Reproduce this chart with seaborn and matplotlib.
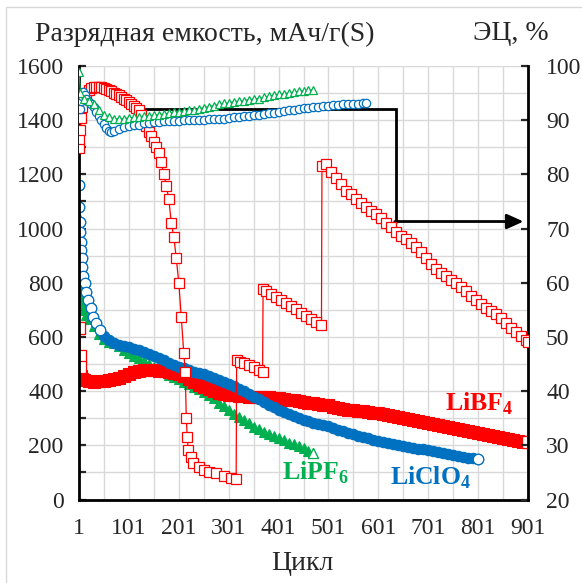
import matplotlib
matplotlib.use("Agg")
import matplotlib.pyplot as plt
from matplotlib.lines import Line2D
import seaborn as sns
import numpy as np

# ---------------- data ----------------
# discharge capacity, mAh/g(S)  -> left axis
libf4_cap_cyc = [1, 2, 3, 4, 6, 8, 11, 21, 31, 41, 51, 61, 71, 81, 91, 101, 111, 121, 131, 141,
                 151, 161, 171, 181, 191, 201, 211, 221, 231, 241, 251, 261, 271, 281, 291, 301,
                 311, 321, 331, 341, 351, 361, 371, 381, 391, 401, 411, 421, 431, 441, 451, 461,
                 471, 481, 491, 501, 511, 521, 531, 541, 551, 561, 571, 581, 591, 601, 611, 621,
                 631, 641, 651, 661, 671, 681, 691, 701, 711, 721, 731, 741, 751, 761, 771, 781,
                 791, 801, 811, 821, 831, 841, 851, 861, 871, 881, 891, 901]
libf4_cap = [910, 633, 530, 490, 455, 445, 440, 437, 435, 436, 438, 441, 445, 450, 456, 463, 470,
             476, 479, 478, 477, 475, 474, 472, 468, 462, 455, 443, 434, 424, 416, 408, 400, 394,
             389, 386, 384, 382, 381, 380, 380, 379, 378, 377, 375, 374, 371, 368, 366, 363, 361,
             358, 355, 352, 350, 347, 341, 337, 334, 331, 330, 327, 325, 322, 320, 318, 315, 311,
             307, 303, 300, 296, 292, 289, 285, 281, 277, 274, 270, 266, 263, 259, 255, 251, 248,
             244, 240, 237, 233, 229, 226, 223, 220, 217, 214, 211]

lipf6_cap_cyc = [1, 2, 3, 4, 6, 8, 11, 16, 21, 31, 41, 51, 61, 71, 81, 91, 101, 111, 121, 131, 141,
                 151, 161, 171, 181, 191, 201, 211, 221, 231, 241, 251, 261, 271, 281, 291, 301,
                 311, 321, 331, 341, 351, 361, 371, 381, 391, 401, 411, 421, 431, 441, 451, 461, 471]
lipf6_cap = [1040, 880, 800, 770, 740, 720, 700, 680, 665, 640, 612, 592, 583, 576, 567, 553, 541,
             531, 521, 510, 499, 489, 479, 470, 461, 452, 443, 434, 425, 416, 407, 398, 387, 373,
             358, 344, 330, 317, 305, 293, 281, 269, 259, 250, 242, 234, 226, 218, 210, 203, 196,
             189, 180, 171]

liclo4_cap_cyc = [1, 2, 3, 4, 5, 6, 7, 8, 10, 13, 16, 20, 25, 30, 36, 43, 51, 61, 71, 81, 91, 101,
                  111, 121, 131, 141, 151, 161, 171, 181, 191, 201, 211, 221, 231, 241, 251, 261,
                  271, 281, 291, 301, 311, 321, 331, 341, 351, 361, 371, 381, 391, 401, 411, 421,
                  431, 441, 451, 461, 471, 481, 491, 501, 511, 521, 531, 541, 551, 561, 571, 581,
                  591, 601, 611, 621, 631, 641, 651, 661, 671, 681, 691, 701, 711, 721, 731, 741,
                  751, 761, 771, 781, 791, 801]
liclo4_cap = [1161, 1081, 1026, 989, 950, 921, 890, 859, 825, 798, 765, 736, 705, 675, 650, 626,
              605, 588, 578, 572, 567, 562, 556, 550, 545, 538, 530, 522, 514, 505, 497, 490, 484,
              478, 472, 468, 464, 456, 448, 441, 435, 428, 419, 409, 399, 390, 380, 370, 360, 350,
              340, 330, 322, 314, 307, 300, 293, 288, 283, 278, 274, 270, 264, 258, 252, 246, 241,
              236, 231, 226, 221, 217, 212, 208, 204, 201, 198, 194, 191, 188, 185, 182, 179, 175,
              172, 168, 165, 161, 158, 155, 152, 149]

# coulombic efficiency (ЭЦ), %  -> right axis
libf4_ce_cyc = [1, 2, 4, 6, 8, 11, 16, 21, 26, 31, 36, 41, 46, 51, 56, 61, 66, 71, 76, 81, 86, 91,
                96, 101, 106, 111, 116, 121, 126, 131, 136, 141, 146, 151, 156, 161, 166, 171, 176,
                181, 186, 191, 196, 201, 206, 211, 214, 216, 218, 220, 225, 230,
                241, 251, 261, 276, 291, 306, 316,
                317, 323, 331, 341, 351, 361, 369,
                370, 376, 386, 396, 406, 416, 426, 436, 446, 456, 466, 476, 487,
                488, 496, 506, 516, 526, 536, 546, 556, 566, 576, 586, 596, 606, 616, 626, 636,
                646, 656, 666, 676, 686, 696, 706, 716, 726, 736, 746, 756, 766, 776, 786, 796,
                806, 816, 826, 836, 846, 856, 866, 876, 886, 896, 901]
libf4_ce = [84.8, 86.5, 88.2, 90.4, 92.5, 94.0, 95.0, 95.6, 95.9, 96.1, 96.2, 96.2, 96.1, 96.0,
            95.8, 95.6, 95.4, 95.1, 94.9, 94.6, 94.3, 94.0, 93.7, 93.3, 93.0, 92.6, 92.3, 91.9,
            91.0, 89.8, 88.9, 87.9, 87.0, 86.0, 85.0, 84.0, 82.2, 80.0, 77.8, 75.5, 71.0, 68.5,
            64.5, 60.0, 53.7, 47.0, 43.6, 35.0, 31.5, 29.1, 27.8, 26.8,
            26.0, 25.4, 25.1, 24.8, 24.4, 24.0, 23.8,
            45.7, 45.4, 45.1, 44.8, 44.4, 43.9, 43.5,
            58.8, 58.5, 57.9, 57.3, 56.8, 56.3, 55.7, 55.1, 54.5, 53.9, 53.4, 52.8, 52.2,
            81.5, 82.0, 80.5, 79.3, 78.2, 77.0, 76.3, 75.5, 74.8, 74.0, 73.3, 72.6, 71.9, 71.0,
            70.3, 69.3, 68.6, 68.0, 67.3, 66.6, 65.6, 64.5, 63.5, 62.5, 61.8, 61.2, 60.5, 59.9,
            59.2, 58.4, 57.6, 56.8, 56.1, 55.4, 54.8, 54.2, 53.5, 52.6, 51.7, 50.9, 50.1, 49.4,
            49.1]

lipf6_ce_cyc = [1, 4, 11, 21, 31, 41, 51, 61, 71, 81, 91, 101, 111, 121, 131, 141, 151, 161, 171,
                181, 191, 201, 211, 221, 231, 241, 251, 261, 271, 281, 291, 301, 311, 321, 331,
                341, 351, 361, 371, 381, 391, 401, 411, 421, 431, 441, 451, 461, 471]
lipf6_ce = [98.9, 95.0, 94.0, 93.5, 93.0, 91.8, 91.0, 90.6, 90.3, 90.2, 90.3, 90.4, 90.5, 90.6,
            90.7, 90.8, 90.9, 91.0, 91.1, 91.3, 91.5, 91.6, 91.7, 91.8, 91.9, 92.1, 92.3, 92.5,
            92.7, 92.9, 93.1, 93.2, 93.4, 93.5, 93.6, 93.8, 93.9, 94.0, 94.2, 94.4, 94.6, 94.8,
            94.9, 95.0, 95.2, 95.3, 95.4, 95.5, 95.6]

liclo4_ce_cyc = [1, 3, 5, 7, 10, 13, 16, 21, 26, 31, 36, 41, 46, 51, 56, 61, 66, 71, 81, 91, 101,
                 111, 121, 131, 141, 151, 161, 171, 181, 191, 201, 211, 221, 231, 241, 251, 261,
                 271, 281, 291, 301, 311, 321, 331, 341, 351, 361, 371, 381, 391, 401, 411, 421,
                 431, 441, 451, 461, 471, 481, 491, 501, 511, 521, 531, 541, 551, 561, 571, 576]
liclo4_ce = [93.7, 92.0, 93.5, 94.5, 95.2, 94.6, 94.0, 93.4, 92.9, 92.4, 91.6, 90.8, 90.1, 89.3,
             88.6, 88.0, 87.8, 88.0, 88.4, 88.7, 88.9, 89.1, 89.2, 89.4, 89.5, 89.6, 89.7, 89.8,
             89.8, 89.9, 89.9, 90.0, 90.0, 90.0, 90.1, 90.1, 90.2, 90.2, 90.3, 90.3, 90.4, 90.5,
             90.6, 90.7, 90.8, 90.9, 91.0, 91.1, 91.3, 91.4, 91.6, 91.7, 91.8, 91.9, 92.1, 92.2,
             92.3, 92.4, 92.5, 92.6, 92.7, 92.8, 92.8, 92.9, 92.9, 93.0, 93.0, 93.1, 93.1]

RED = "#FF0000"
GREEN = "#00B050"
BLUE = "#0070C0"

# ---------------- style ----------------
sns.set_style("white")
plt.rcParams["font.family"] = ["Liberation Serif", "DejaVu Serif"]
plt.rcParams["mathtext.fontset"] = "custom"
plt.rcParams["mathtext.rm"] = "Liberation Serif"
plt.rcParams["mathtext.bf"] = "Liberation Serif:bold"
FS = 17
FS_TITLE = 20

fig = plt.figure(figsize=(5.82, 5.83), dpi=100)
W, H = 582, 583
L, R, T, B = 79, 528, 66, 499.5
ax = fig.add_axes([L / W, 1 - B / H, (R - L) / W, (B - T) / H])
ax2 = ax.twinx()


def band(a, cyc, val, color, marker, ms, n_open):
    # dense part: filled markers on a thin line, early sparse points and the last one open
    sns.lineplot(x=cyc, y=val, ax=a, color=color, lw=1, marker=marker, markersize=ms,
                 markerfacecolor=color, markeredgecolor=color, markeredgewidth=0.8,
                 sort=False, estimator=None)
    c = np.array(cyc)
    v = np.array(val)
    a.plot(c[:n_open], v[:n_open], ls="none", marker=marker, ms=ms, mfc="white", mec=color, mew=0.9)
    a.plot(c[-1:], v[-1:], ls="none", marker=marker, ms=ms, mfc="white", mec=color, mew=0.9)


band(ax, lipf6_cap_cyc, lipf6_cap, GREEN, "^", 7.5, 2)
band(ax, libf4_cap_cyc, libf4_cap, RED, "s", 8.5, 4)
band(ax, liclo4_cap_cyc, liclo4_cap, BLUE, "o", 7.5, 16)


def chain(a, cyc, val, color, marker, ms):
    sns.lineplot(x=cyc, y=val, ax=a, color=color, lw=0.9, marker=marker, markersize=ms,
                 markerfacecolor="white", markeredgecolor=color, markeredgewidth=0.9,
                 sort=False, estimator=None, zorder=3)


# black guide arrow pointing to the right axis
ax2.plot([123, 636, 636], [92.1, 92.1, 71.3], color="black", lw=2, zorder=2, solid_joinstyle="miter")
ax2.annotate("", xy=(892, 71.3), xytext=(634, 71.3),
             arrowprops=dict(arrowstyle="-|>,head_length=1.0,head_width=0.45", color="black", lw=2,
                             shrinkA=0, shrinkB=0), zorder=2)

chain(ax2, libf4_ce_cyc, libf4_ce, RED, "s", 7.5)
chain(ax2, liclo4_ce_cyc, liclo4_ce, BLUE, "o", 6)
chain(ax2, lipf6_ce_cyc, lipf6_ce, GREEN, "^", 5.5)

# ---------------- axes ----------------
ax.set_xlim(1, 901)
ax.set_ylim(0, 1600)
ax2.set_ylim(20, 100)
ax.set_xticks(np.arange(1, 902, 100))
ax.set_xticks(np.arange(51, 902, 100), minor=True)
ax.set_yticks(np.arange(0, 1601, 200))
ax.set_yticks(np.arange(100, 1601, 200), minor=True)
ax2.set_yticks(np.arange(20, 101, 10))
ax.set_xlabel("")
ax.set_ylabel("")
ax2.set_ylabel("")

ax.grid(True, which="both", color="#d9d9d9", lw=1)
ax.set_axisbelow(True)
ax.tick_params(axis="both", which="both", direction="in", length=5, width=1.6, labelsize=FS)
ax.tick_params(axis="y", pad=11)
ax.tick_params(axis="x", pad=13)
ax2.tick_params(axis="y", which="both", direction="in", length=5, width=1.6, labelsize=FS, pad=13)

for a in (ax, ax2):
    a.spines["top"].set_visible(False)
    for s in ("left", "bottom", "right"):
        a.spines[s].set_linewidth(2)
        a.spines[s].set_color("black")
ax.spines["right"].set_visible(False)
ax2.spines["left"].set_visible(False)
ax2.spines["bottom"].set_visible(False)

# ---------------- texts ----------------
ax.text(802, 352, r"LiBF$_\mathbf{4}$", color=RED, fontsize=18.5, fontweight="bold", ha="center", va="center")
ax.text(475, 98, r"LiPF$_\mathbf{6}$", color=GREEN, fontsize=18.5, fontweight="bold", ha="center", va="center")
ax.text(705, 79, r"LiClO$_\mathbf{4}$", color=BLUE, fontsize=18.5, fontweight="bold", ha="center", va="center")

fig.text(35 / W, 1 - 34 / H, "Разрядная емкость, мАч/г(S)", fontsize=FS_TITLE, ha="left", va="center")
fig.text(511 / W, 1 - 34 / H, "ЭЦ, %", fontsize=FS_TITLE, ha="center", va="center")
fig.text(302 / W, 1 - 564 / H, "Цикл", fontsize=FS_TITLE, ha="center", va="center")

# thin chart-area border
fig.add_artist(Line2D([6 / W, 6 / W], [0, 1 - 7 / H], color="#d9d9d9", lw=1))
fig.add_artist(Line2D([6 / W, 1], [1 - 7 / H, 1 - 7 / H], color="#d9d9d9", lw=1))

fig.savefig("out.png", dpi=100)
